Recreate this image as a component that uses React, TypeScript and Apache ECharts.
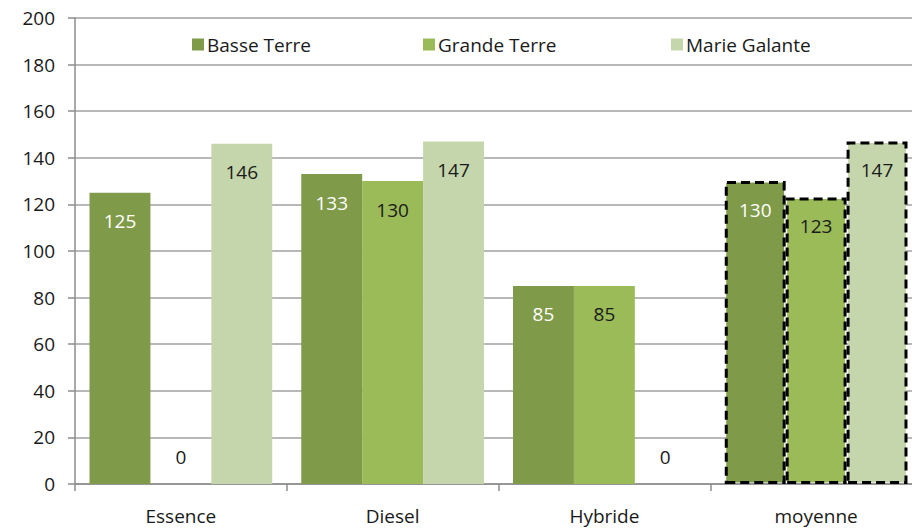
import React, { useEffect, useRef } from "react";
import * as echarts from "echarts";

const categories = ["Essence", "Diesel", "Hybride", "moyenne"];
const seriesNames = ["Basse Terre", "Grande Terre", "Marie Galante"];
const basseTerre = [125, 133, 85, 130];
const grandeTerre = [0, 130, 85, 123];
const marieGalante = [146, 147, 0, 147];
const yTicks = { min: 0, max: 200, interval: 20 };

const colors = ["#7f9a48", "#9bbb59", "#c6d6ac"];
const labelColors = ["#ffffff", "#1a1a1a", "#1a1a1a"];
const FONT = "'Open Sans', sans-serif";

export default function App() {
  const ref = useRef<HTMLDivElement>(null);
  useEffect(() => {
    if (!ref.current) return;
    const chart = echarts.init(ref.current, undefined, { renderer: "svg" });
    const all = [basseTerre, grandeTerre, marieGalante];
    const series = all.map((vals, si) => ({
      name: seriesNames[si],
      type: "bar",
      barGap: "0%",
      barCategoryGap: "13.7%",
      itemStyle: { color: colors[si] },
      label: {
        show: true,
        position: "insideTop",
        distance: 19,
        color: labelColors[si],
        fontFamily: FONT,
        fontSize: 19,
      },
      data: vals.map((v, ci) => {
        const item: any = { value: v };
        if (v === 0) {
          item.label = { position: "top", distance: 18, color: "#1a1a1a" };
        }
        if (categories[ci] === "moyenne") {
          item.itemStyle = {
            color: colors[si],
            borderColor: "#000",
            borderWidth: 3,
            borderType: [9, 5],
          };
        }
        return item;
      }),
    }));
    const legendLefts = [187, 418, 666];
    const legends = seriesNames.map((n, i) => ({
      data: [n],
      left: legendLefts[i],
      top: 30,
      icon: "rect",
      itemWidth: 12,
      itemHeight: 12,
      itemGap: 6,
      textStyle: { fontFamily: FONT, fontSize: 19, color: "#1a1a1a", padding: [0, 0, 0, -2] },
      selectedMode: false,
    }));
    chart.setOption({
      animation: false,
      backgroundColor: "#ffffff",
      grid: {
        left: 75,
        right: -10,
        top: 18,
        bottom: 47,
        containLabel: false,
        outerBoundsMode: "none",
      },
      legend: legends,
      xAxis: {
        type: "category",
        data: categories,
        axisLine: { show: true, lineStyle: { color: "#8c8c8c", width: 1.5 } },
        axisTick: { show: true, length: 7, alignWithLabel: false, lineStyle: { color: "#8c8c8c", width: 1.5 } },
        axisLabel: { margin: 22, fontFamily: FONT, fontSize: 19, color: "#1a1a1a" },
      },
      yAxis: {
        type: "value",
        min: yTicks.min,
        max: yTicks.max,
        interval: yTicks.interval,
        axisLine: { show: true, lineStyle: { color: "#8c8c8c", width: 1.5 } },
        axisTick: { show: true, length: 7, lineStyle: { color: "#8c8c8c", width: 1.5 } },
        axisLabel: { margin: 20, fontFamily: FONT, fontSize: 19, color: "#1a1a1a" },
        splitLine: { show: true, lineStyle: { color: "#a0a0a0", width: 1.5 } },
      },
      series,
    });
    return () => chart.dispose();
  }, []);
  return (
    <div
      ref={ref}
      style={{ position: "fixed", left: 0, top: 0, width: 912, height: 531 }}
    />
  );
}
